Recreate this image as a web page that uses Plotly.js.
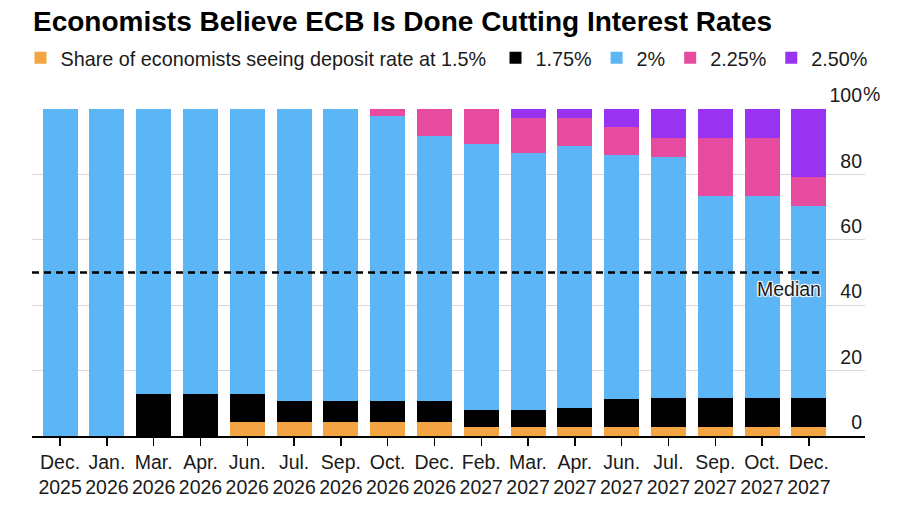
<!DOCTYPE html>
<html>
<head>
<meta charset="utf-8">
<script src="https://cdn.plot.ly/plotly-3.0.1.min.js"></script>
<style>
  html, body { margin: 0; padding: 0; background: #fff; }
  #chart { width: 900px; height: 510px; }
</style>
</head>
<body>
<div id="chart"></div>
<script>
// Categories (meeting dates)
const months = ['Dec.', 'Jan.', 'Mar.', 'Apr.', 'Jun.', 'Jul.', 'Sep.', 'Oct.', 'Dec.',
                'Feb.', 'Mar.', 'Apr.', 'Jun.', 'Jul.', 'Sep.', 'Oct.', 'Dec.'];
const years  = ['2025', '2026', '2026', '2026', '2026', '2026', '2026', '2026', '2026',
                '2027', '2027', '2027', '2027', '2027', '2027', '2027', '2027'];

// Share of economists (%) seeing each deposit rate
const rate150 = [0, 0, 0, 0, 4.2, 4.2, 4.2, 4.2, 4.2, 2.7, 2.7, 2.9, 2.9, 2.9, 2.9, 2.9, 2.9];
const rate175 = [0, 0, 12.8, 12.8, 8.6, 6.5, 6.5, 6.5, 6.5, 5.3, 5.3, 5.6, 8.5, 8.7, 8.7, 8.7, 8.7];
const rate200 = [100, 100, 87.2, 87.2, 87.2, 89.3, 89.3, 87.2, 81.0, 81.3, 78.6, 80.1, 74.4, 73.6, 61.9, 61.9, 58.7];
const rate225 = [0, 0, 0, 0, 0, 0, 0, 2.1, 8.3, 10.7, 10.7, 8.6, 8.7, 6.0, 17.7, 17.7, 9.0];
const rate250 = [0, 0, 0, 0, 0, 0, 0, 0, 0, 0, 2.7, 2.8, 5.5, 8.8, 8.8, 8.8, 20.7];

const seriesNames = ['Share of economists seeing deposit rate at 1.5%', '1.75%', '2%', '2.25%', '2.50%'];
const seriesColors = ['#F3A443', '#000000', '#5CB5F5', '#E64BA0', '#9933F2'];
const seriesValues = [rate150, rate175, rate200, rate225, rate250];

const medianValue = 50;
const yTickVals = [0, 20, 40, 60, 80, 100];
const yTickText = ['0', '20', '40', '60', '80', '100'];

const categories = months.map((m, i) => m + '<br>' + years[i]);
const FONT = 'Liberation Sans, Arial, Helvetica, sans-serif';

const traces = seriesValues.map((vals, i) => ({
  type: 'bar',
  name: seriesNames[i],
  x: categories,
  y: vals,
  legend: i === 0 ? 'legend' : 'legend2',
  marker: { color: seriesColors[i], line: { width: 0 } },
  hoverinfo: 'skip'
}));

const legendBase = {
  orientation: 'h',
  xref: 'container', yref: 'container',
  xanchor: 'left',
  y: 1 - 58 / 510, yanchor: 'middle',
  font: { family: FONT, size: 19.8, color: '#1a1a1a' },
  traceorder: 'normal',
  bgcolor: 'rgba(0,0,0,0)',
  itemclick: false, itemdoubleclick: false
};

const layout = {
  width: 900,
  height: 510,
  margin: { l: 32, r: 35, t: 109, b: 74, pad: 0 },
  paper_bgcolor: '#ffffff',
  plot_bgcolor: '#ffffff',
  barmode: 'stack',
  bargap: 0.25,
  font: { family: FONT, size: 19, color: '#1a1a1a' },
  title: {
    text: 'Economists Believe ECB Is Done Cutting Interest Rates',
    font: { family: FONT, size: 28, color: '#000000', weight: 'bold' },
    xref: 'container', yref: 'container',
    x: 33 / 900, xanchor: 'left',
    y: 1 - 21 / 510, yanchor: 'middle'
  },
  showlegend: true,
  legend: Object.assign({}, legendBase, { x: 20.5 / 900 }),
  legend2: Object.assign({}, legendBase, { x: 495.5 / 900 }),
  xaxis: {
    type: 'category',
    range: [-0.6, 17.2],
    showgrid: false,
    zeroline: false,
    showline: true,
    linecolor: '#000000',
    linewidth: 1.5,
    ticks: 'outside',
    ticklen: 8,
    tickwidth: 1.5,
    tickcolor: '#000000',
    tickfont: { family: FONT, size: 19.5, color: '#1a1a1a' },
    fixedrange: true
  },
  yaxis: {
    range: [0, 100],
    side: 'right',
    tickvals: yTickVals,
    ticktext: yTickText,
    ticklabelposition: 'inside top',
    ticklabeloverflow: 'allow',
    ticks: '',
    showgrid: true,
    gridcolor: '#d9d9d9',
    gridwidth: 1,
    zeroline: false,
    showline: false,
    tickfont: { family: FONT, size: 19.5, color: '#1a1a1a' },
    fixedrange: true
  },
  shapes: [{
    type: 'line',
    xref: 'x', yref: 'y',
    x0: -0.6, x1: 16.25,
    y0: medianValue, y1: medianValue,
    line: { color: '#000000', width: 2.5, dash: '7px,5px' }
  }],
  annotations: [
    {
      text: 'Median',
      xref: 'x', yref: 'y',
      x: 16.3, y: medianValue,
      xanchor: 'right', yanchor: 'top',
      yshift: -3,
      showarrow: false,
      font: { family: FONT, size: 19.5, color: '#1a1a1a',
              shadow: '1px 1px 1px #fff, -1px -1px 1px #fff, 1px -1px 1px #fff, -1px 1px 1px #fff' }
    },
    {
      text: '%',
      xref: 'paper', yref: 'y',
      x: 1, y: 100,
      xanchor: 'left', yanchor: 'bottom',
      xshift: -4, yshift: 2,
      showarrow: false,
      font: { family: FONT, size: 19.5, color: '#1a1a1a' }
    }
  ]
};

Plotly.newPlot('chart', traces, layout, { displayModeBar: false, staticPlot: true });
</script>
</body>
</html>
